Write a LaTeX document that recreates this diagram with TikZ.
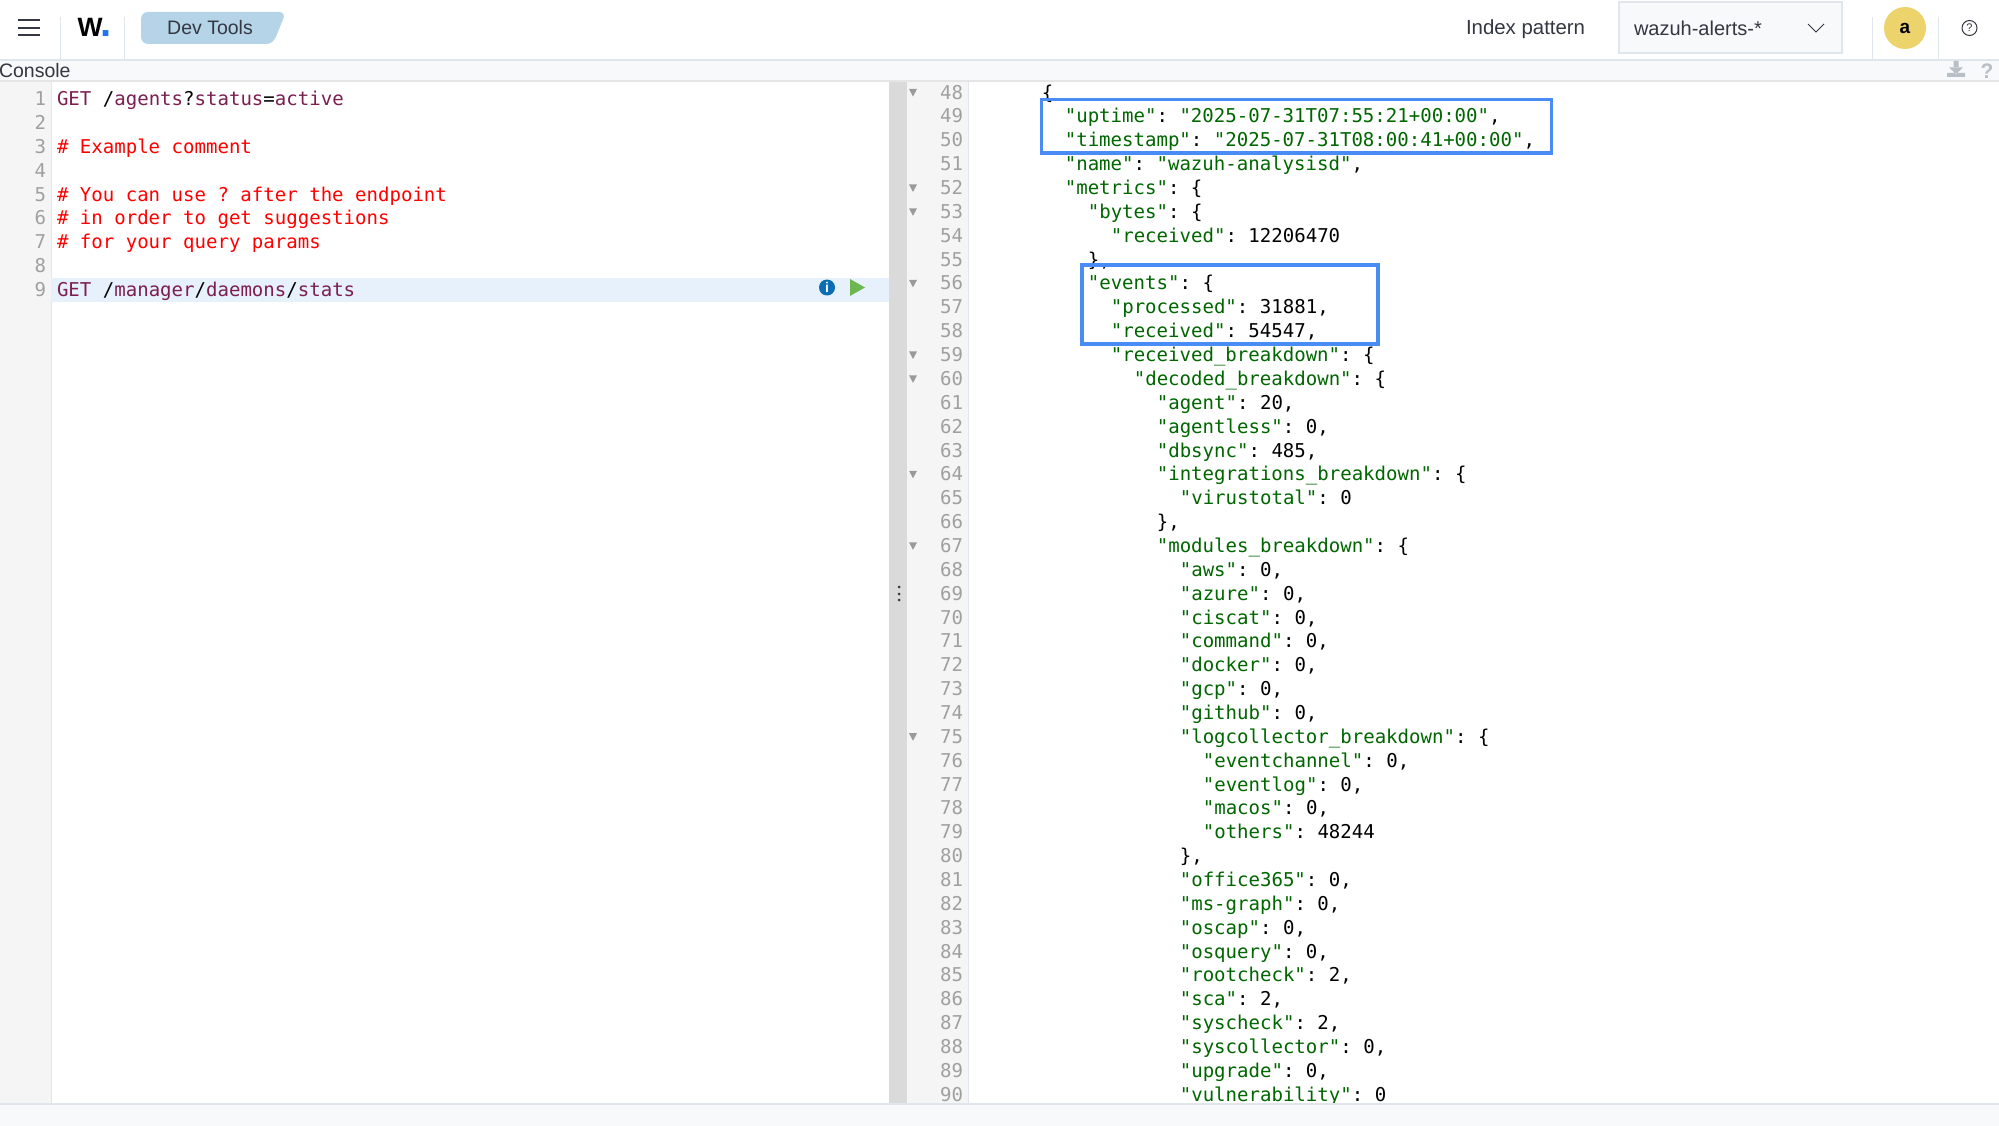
\documentclass[tikz,border=0pt]{standalone}
\usepackage{fontspec}
\setmainfont{Liberation Sans}
\setmonofont{DejaVu Sans Mono}
\definecolor{bandgrey}{HTML}{F7F9FB}
\definecolor{rulegrey}{HTML}{E1E5EC}
\definecolor{guttergrey}{HTML}{F5F5F5}
\definecolor{splitgrey}{HTML}{DADADA}
\definecolor{numgrey}{HTML}{A0A0A0}
\definecolor{foldgrey}{HTML}{9A9A9A}
\definecolor{tabblue}{HTML}{B5D4E8}
\definecolor{uitext}{HTML}{343741}
\definecolor{maroon}{HTML}{7C1F50}
\definecolor{jsongreen}{HTML}{006600}
\definecolor{rowblue}{HTML}{E7F1FB}
\definecolor{boxblue}{HTML}{4A8CF5}
\definecolor{avataryellow}{HTML}{ECD36C}
\definecolor{infoblue}{HTML}{0A6EB4}
\definecolor{playgreen}{HTML}{6DB650}
\definecolor{logodot}{HTML}{1D74F5}
\definecolor{icongrey}{HTML}{B9BFC7}
\newcommand{\jk}[1]{\textcolor{jsongreen}{"#1"}}
\newcommand{\mw}[1]{\textcolor{maroon}{#1}}
\begin{document}
\begin{tikzpicture}[x=1pt, y=-1pt, every node/.style={inner sep=0pt, outer sep=0pt}]
	\tikzstyle{code} = [anchor=base west, font=\fontsize{19.05}{23}\selectfont\ttfamily\frenchspacing]
	\tikzstyle{lineno} = [anchor=base east, text=numgrey, font=\fontsize{19.05}{23}\selectfont\ttfamily]
	\tikzstyle{comment} = [code, text=red]
	\tikzstyle{ui} = [text=uitext, font=\fontsize{20.4}{24}\selectfont]
	\tikzstyle{sep} = [rulegrey, line width=1pt]
	\tikzstyle{hilite} = [draw=boxblue, line width=3.2pt]
	\useasboundingbox (0,0) rectangle (1999,1126);
	\fill[white] (0,0) rectangle (1999,1126);
	% top bar
	\draw[uitext, line width=2pt] (18,20) -- (40,20) (18,27.7) -- (40,27.7) (18,35) -- (40,35);
	\draw[sep] (60,17) -- (60,60) (124,17) -- (124,60) (1872.5,17) -- (1872.5,60) (1938.5,17) -- (1938.5,60);
	\node[anchor=base west, font=\fontsize{26.5}{30}\selectfont\bfseries] (logo) at (77.5,37) {W\kern-2.5pt\textcolor{logodot}{\fontsize{40}{40}\selectfont.}};
	\fill[tabblue, rounded corners=7pt] (141,12) -- (286,12) -- (273,44) -- (141,44) -- cycle;
	\node[ui, font=\fontsize{19.5}{24}\selectfont] (devtools) at (210,28) {Dev Tools};
	\node[ui, anchor=west] (indexlabel) at (1466,29) {Index pattern};
	\draw[rulegrey, fill=bandgrey, line width=1.2pt] (1619,2) rectangle (1842,53);
	\node[ui, anchor=west, font=\fontsize{20}{24}\selectfont] (indexvalue) at (1634,28) {wazuh-alerts-*};
	\draw[uitext, line width=1pt] (1808,24) -- (1816,32) -- (1824,24);
	\node[circle, fill=avataryellow, minimum size=42pt, font=\fontsize{19}{24}\selectfont\bfseries] (avatar) at (1905,28) {a};
	\node[circle, draw=uitext, line width=1pt, minimum size=15pt, text=uitext, font=\fontsize{11}{12}\selectfont] (help) at (1969.5,28) {?};
	% console band
	\fill[bandgrey] (0,60) rectangle (1999,80);
	\draw[rulegrey, line width=1.5pt] (0,60) -- (1999,60);
	\draw[splitgrey!70, line width=1.2pt] (0,81) -- (1999,81);
	\node[anchor=west, text=uitext, font=\fontsize{19.5}{24}\selectfont] (console) at (-1,71) {Console};
	\fill[icongrey] (1953.5,61) rectangle (1958.5,68) (1949,67.5) -- (1963,67.5) -- (1956,74) -- cycle (1947,73) rectangle (1965,77);
	\node[text=icongrey, font=\fontsize{21}{22}\selectfont\bfseries] (helpband) at (1987,71) {?};
	% gutters and splitter
	\fill[guttergrey] (0,82) rectangle (51,1104);
	\draw[rulegrey] (51,82) -- (51,1104);
	\fill[rowblue] (51,278) rectangle (889,302);
	\fill[splitgrey] (889,82) rectangle (907,1104);
	\fill[guttergrey] (907,82) rectangle (968,1104);
	\draw[rulegrey] (968,82) -- (968,1104);
	\foreach \dy in {587,594,600}
		\fill[uitext] (899,\dy) circle (1.5pt);
	% left editor
	\foreach \n in {1,...,9}{
		\pgfmathsetmacro\yb{106+(\n-1)*23.8}
		\node[lineno] (lnum\n) at (46,\yb) {\n};
	}
	\node[code] (req1) at (57,106) {\mw{GET} /\mw{agents}?\mw{status}=\mw{active}};
	\node[comment] (rem1) at (57,153.6) {\# Example comment};
	\node[comment] (rem2) at (57,201.2) {\# You can use ? after the endpoint};
	\node[comment] (rem3) at (57,225) {\# in order to get suggestions};
	\node[comment] (rem4) at (57,248.8) {\# for your query params};
	\node[code] (req2) at (57,296.4) {\mw{GET} /\mw{manager}/\mw{daemons}/\mw{stats}};
	\node[circle, fill=infoblue, text=white, minimum size=16pt, font=\fontsize{14}{14}\selectfont\bfseries] (info) at (827,287.5) {i};
	\fill[playgreen] (850,279) -- (865,287.5) -- (850,296) -- cycle;
	% right editor
	\foreach \f in {48,52,53,56,59,60,64,67,75}{
		\pgfmathsetmacro\yf{92.5+(\f-48)*23.86}
		\fill[foldgrey] (909,\yf-3.5) -- (917,\yf-3.5) -- (913,\yf+4) -- cycle;
	}
	\foreach \n/\lev/\txt in {
		48/0/\{,
		49/1/{\jk{uptime}: \jk{2025-07-31T07:55:21+00:00},},
		50/1/{\jk{timestamp}: \jk{2025-07-31T08:00:41+00:00},},
		51/1/{\jk{name}: \jk{wazuh-analysisd},},
		52/1/{\jk{metrics}: \{},
		53/2/{\jk{bytes}: \{},
		54/3/{\jk{received}: 12206470},
		55/2/{\},},
		56/2/{\jk{events}: \{},
		57/3/{\jk{processed}: 31881,},
		58/3/{\jk{received}: 54547,},
		59/3/{\jk{received\_breakdown}: \{},
		60/4/{\jk{decoded\_breakdown}: \{},
		61/5/{\jk{agent}: 20,},
		62/5/{\jk{agentless}: 0,},
		63/5/{\jk{dbsync}: 485,},
		64/5/{\jk{integrations\_breakdown}: \{},
		65/6/{\jk{virustotal}: 0},
		66/5/{\},},
		67/5/{\jk{modules\_breakdown}: \{},
		68/6/{\jk{aws}: 0,},
		69/6/{\jk{azure}: 0,},
		70/6/{\jk{ciscat}: 0,},
		71/6/{\jk{command}: 0,},
		72/6/{\jk{docker}: 0,},
		73/6/{\jk{gcp}: 0,},
		74/6/{\jk{github}: 0,},
		75/6/{\jk{logcollector\_breakdown}: \{},
		76/7/{\jk{eventchannel}: 0,},
		77/7/{\jk{eventlog}: 0,},
		78/7/{\jk{macos}: 0,},
		79/7/{\jk{others}: 48244},
		80/6/{\},},
		81/6/{\jk{office365}: 0,},
		82/6/{\jk{ms-graph}: 0,},
		83/6/{\jk{oscap}: 0,},
		84/6/{\jk{osquery}: 0,},
		85/6/{\jk{rootcheck}: 2,},
		86/6/{\jk{sca}: 2,},
		87/6/{\jk{syscheck}: 2,},
		88/6/{\jk{syscollector}: 0,},
		89/6/{\jk{upgrade}: 0,},
		90/6/{\jk{vulnerability}: 0}}{
		\pgfmathsetmacro\yb{99.1+(\n-48)*23.86}
		\pgfmathsetmacro\xb{1041.8+\lev*23}
		\node[lineno] (rnum\n) at (963,\yb) {\n};
		\node[code] (resp\n) at (\xb,\yb) {\txt};
	}
	% highlight boxes
	\draw[hilite] (1041.5,99.5) rectangle (1551.5,153);
	\draw[hilite] (1082,265) rectangle (1378,344);
	% bottom band
	\fill[bandgrey] (0,1104) rectangle (1999,1126);
	\draw[rulegrey, line width=1.2pt] (0,1104) -- (1999,1104);
\end{tikzpicture}
\end{document}
